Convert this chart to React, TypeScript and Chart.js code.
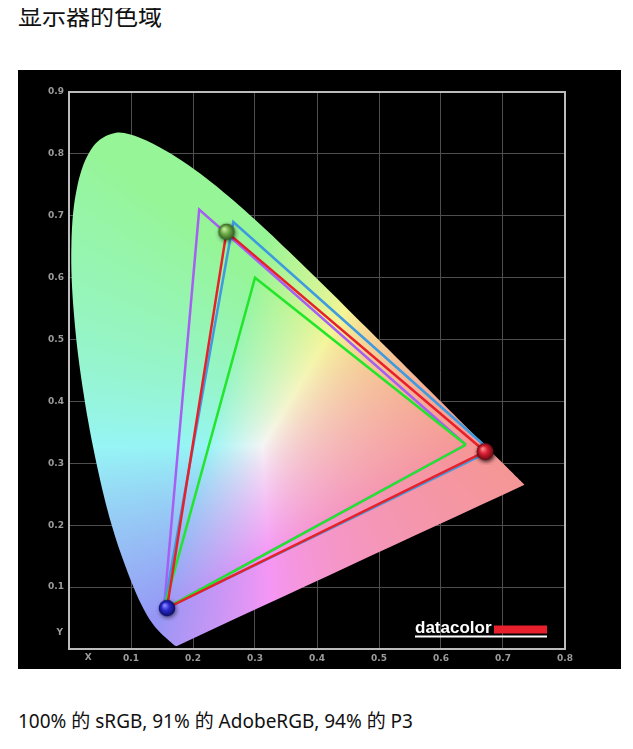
import { useEffect, useRef } from 'react';
import { Chart, registerables } from 'chart.js';
Chart.register(...registerables);

const titleText = '显示器的色域';
const captionText = '100% 的 sRGB, 91% 的 AdobeRGB, 94% 的 P3';

// axis ticks
const xTickValues = [0.1, 0.2, 0.3, 0.4, 0.5, 0.6, 0.7, 0.8];
const yTickValues = [0.1, 0.2, 0.3, 0.4, 0.5, 0.6, 0.7, 0.8, 0.9];
const xAxisLetter = 'X';
const yAxisLetter = 'Y';
const xLetterAt = 0.031;
const yLetterAt = 0.026;
const logoText = 'datacolor';

// CIE 1931 spectral locus (380–700 nm), closed by the line of purples
const locusX = [0.1741, 0.1740, 0.1738, 0.1736, 0.1733, 0.1730, 0.1726, 0.1721, 0.1714, 0.1703, 0.1689, 0.1669, 0.1644, 0.1611, 0.1566, 0.1510, 0.1440, 0.1355, 0.1241, 0.1096, 0.0913, 0.0687, 0.0454, 0.0235, 0.0082, 0.0039, 0.0139, 0.0389, 0.0743, 0.1142, 0.1547, 0.1929, 0.2296, 0.2658, 0.3016, 0.3373, 0.3731, 0.4087, 0.4441, 0.4788, 0.5125, 0.5448, 0.5752, 0.6029, 0.6270, 0.6482, 0.6658, 0.6801, 0.6915, 0.7006, 0.7079, 0.7140, 0.7190, 0.7230, 0.7260, 0.7283, 0.7300, 0.7311, 0.7320, 0.7327, 0.7334, 0.7340, 0.7344, 0.7346, 0.7347, 0.4544, 0.1741];
const locusY = [0.0050, 0.0050, 0.0049, 0.0049, 0.0048, 0.0048, 0.0048, 0.0048, 0.0051, 0.0058, 0.0069, 0.0086, 0.0109, 0.0138, 0.0177, 0.0227, 0.0297, 0.0399, 0.0578, 0.0868, 0.1327, 0.2007, 0.2950, 0.4127, 0.5384, 0.6548, 0.7502, 0.8120, 0.8338, 0.8262, 0.8059, 0.7816, 0.7543, 0.7243, 0.6923, 0.6589, 0.6245, 0.5896, 0.5547, 0.5202, 0.4866, 0.4544, 0.4242, 0.3965, 0.3725, 0.3514, 0.3340, 0.3197, 0.3083, 0.2993, 0.2920, 0.2859, 0.2809, 0.2770, 0.2740, 0.2717, 0.2700, 0.2689, 0.2680, 0.2673, 0.2666, 0.2660, 0.2656, 0.2654, 0.2653, 0.1352, 0.0050];

// gamut triangles (R, G, B)
const adobeX = [0.64, 0.21, 0.153];
const adobeY = [0.33, 0.71, 0.064];
const p3X = [0.68, 0.265, 0.153];
const p3Y = [0.32, 0.69, 0.064];
const srgbX = [0.64, 0.30, 0.153];
const srgbY = [0.33, 0.60, 0.064];
const measuredX = [0.671, 0.254, 0.158];
const measuredY = [0.319, 0.674, 0.066];

const closed = (xs: number[], ys: number[]) =>
  xs.concat([xs[0]]).map((x, i) => ({ x, y: ys.concat([ys[0]])[i] }));

function chroma(x: number, y: number): [number, number, number] {
  if (y <= 0.0001) y = 0.0001;
  const X = x / y, Y = 1, Z = (1 - x - y) / y;
  let r = 3.2406 * X - 1.5372 * Y - 0.4986 * Z;
  let g = -0.9689 * X + 1.8758 * Y + 0.0415 * Z;
  let b = 0.0557 * X - 0.204 * Y + 1.057 * Z;
  r = Math.max(r, 0); g = Math.max(g, 0); b = Math.max(b, 0);
  const m = Math.max(r, g, b, 1e-6);
  const enc = (c: number) => {
    const v = Math.pow(c / m, 0.8);
    return Math.round(150 + 95 * v);
  };
  return [enc(r), enc(g), enc(b)];
}

const patternCache = new WeakMap<any, { key: string; pat: any }>();
function gamutFill(ctx: any) {
  const chart = ctx.chart;
  const area = chart.chartArea;
  const xs = chart.scales && chart.scales.x;
  const ys = chart.scales && chart.scales.y;
  if (!area || !xs || !ys) return 'rgba(0,0,0,0)';
  const key = `${area.left},${area.top},${area.right},${area.bottom},${chart.width},${chart.height}`;
  const c = patternCache.get(chart);
  if (c && c.key === key) return c.pat;
  const w = chart.width, h = chart.height;
  const off = document.createElement('canvas');
  off.width = w; off.height = h;
  const octx = off.getContext('2d')!;
  const img = octx.createImageData(w, h);
  for (let py = Math.floor(area.top); py < Math.ceil(area.bottom); py++) {
    const yv = ys.getValueForPixel(py + 0.5);
    for (let px = Math.floor(area.left); px < Math.ceil(area.right); px++) {
      const xv = xs.getValueForPixel(px + 0.5);
      const [r, g, b] = chroma(xv, yv);
      const i = (py * w + px) * 4;
      img.data[i] = r; img.data[i + 1] = g; img.data[i + 2] = b; img.data[i + 3] = 255;
    }
  }
  octx.putImageData(img, 0, 0);
  const pat = chart.ctx.createPattern(off, 'no-repeat');
  patternCache.set(chart, { key, pat });
  return pat;
}

function makeSphere(light: string, base: string, dark: string) {
  const s = 26;
  const cv = document.createElement('canvas');
  cv.width = s; cv.height = s;
  const c = cv.getContext('2d')!;
  const cx = s / 2, cy = s / 2, r = 8.3;
  c.save();
  c.shadowColor = 'rgba(0,0,0,0.55)';
  c.shadowBlur = 4;
  c.shadowOffsetX = 1;
  c.shadowOffsetY = 1.5;
  const g = c.createRadialGradient(cx - 2.5, cy - 3, 0.5, cx, cy, r);
  g.addColorStop(0, light);
  g.addColorStop(0.45, base);
  g.addColorStop(1, dark);
  c.fillStyle = g;
  c.beginPath();
  c.arc(cx, cy, r, 0, Math.PI * 2);
  c.fill();
  c.restore();
  return cv;
}

const decorPlugin = {
  id: 'decor',
  afterDraw(chart: any) {
    const { ctx, chartArea: a, scales } = chart;
    ctx.save();
    // frame
    ctx.strokeStyle = '#bcbcbc';
    ctx.lineWidth = 2;
    ctx.strokeRect(a.left, a.top, a.right - a.left, a.bottom - a.top);
    // axis letters
    ctx.fillStyle = '#9c9c9c';
    ctx.font = 'bold 9px "DejaVu Sans"';
    ctx.textAlign = 'center';
    ctx.textBaseline = 'middle';
    ctx.fillText(xAxisLetter, scales.x.getPixelForValue(xLetterAt), a.bottom + 9);
    ctx.textAlign = 'right';
    ctx.fillText(yAxisLetter, a.left - 6, scales.y.getPixelForValue(yLetterAt));
    // logo
    const right = a.right - 18;
    const left = a.right - 150;
    const base = a.bottom - 16;
    ctx.fillStyle = '#e8202c';
    ctx.fillRect(right - 53, base - 7.5, 53, 8);
    ctx.fillStyle = '#ffffff';
    ctx.font = 'bold 17px "Liberation Sans"';
    ctx.textAlign = 'left';
    ctx.textBaseline = 'alphabetic';
    ctx.fillText(logoText, left, base);
    ctx.fillRect(left, base + 2.5, right - left, 2);
    ctx.restore();
  },
};

export default function App() {
  const ref = useRef<HTMLCanvasElement>(null);
  useEffect(() => {
    if (!ref.current) return;
    const spheres = [
      makeSphere('#ff8a8a', '#d81f34', '#6e0a14'),
      makeSphere('#c8f0a0', '#6fae4a', '#2f5a1e'),
      makeSphere('#8a8aff', '#2a2ad0', '#0c0c60'),
    ];
    const line = (data: any[], color: string, order: number) => ({
      data,
      borderColor: color,
      borderWidth: 2.5,
      pointRadius: 0,
      fill: false,
      tension: 0,
      order,
    });
    const chart = new Chart(ref.current, {
      type: 'line',
      data: {
        datasets: [
          {
            data: locusX.map((x, i) => ({ x, y: locusY[i] })),
            borderWidth: 0,
            borderColor: 'rgba(0,0,0,0)',
            backgroundColor: gamutFill,
            fill: 'shape',
            pointRadius: 0,
            tension: 0.35,
            order: 10,
          } as any,
          line(closed(adobeX, adobeY), '#a65ff2', 5),
          line(closed(p3X, p3Y), '#3f9be0', 4),
          line(closed(srgbX, srgbY), '#23e52c', 3),
          {
            ...line(closed(measuredX, measuredY), '#e8202a', 1),
            pointRadius: 8,
            pointStyle: (c: any) => spheres[c.dataIndex % 3],
          } as any,
        ],
      },
      options: {
        animation: false,
        responsive: false,
        events: [],
        layout: { padding: { top: 22, right: 56, left: 0, bottom: 0 } },
        plugins: { legend: { display: false }, tooltip: { enabled: false } },
        scales: {
          x: {
            type: 'linear',
            min: 0,
            max: 0.8,
            afterFit: (s: any) => { s.height = 20; },
            afterBuildTicks: (s: any) => { s.ticks = [0].concat(xTickValues).map((v) => ({ value: v })); },
            grid: { color: '#4e4e4e', lineWidth: 1, drawTicks: false },
            border: { display: false },
            ticks: {
              padding: 4,
              color: '#9c9c9c',
              font: { family: '"DejaVu Sans"', size: 9, weight: 'bold' },
              callback: (v: any) => (Math.abs(v) < 1e-9 ? '' : Number(v).toFixed(1)),
              maxRotation: 0,
              autoSkip: false,
            },
          },
          y: {
            type: 'linear',
            min: 0,
            max: 0.9,
            afterFit: (s: any) => { s.width = 51; },
            afterBuildTicks: (s: any) => { s.ticks = [0].concat(yTickValues).map((v) => ({ value: v })); },
            grid: { color: '#4e4e4e', lineWidth: 1, drawTicks: false },
            border: { display: false },
            ticks: {
              padding: 5,
              color: '#9c9c9c',
              font: { family: '"DejaVu Sans"', size: 9, weight: 'bold' },
              callback: (v: any) => (Math.abs(v) < 1e-9 ? '' : Number(v).toFixed(1)),
              autoSkip: false,
            },
          },
        },
      } as any,
      plugins: [decorPlugin],
    });
    return () => chart.destroy();
  }, []);

  return (
    <div style={{ position: 'relative', width: 617, height: 733 }}>
      <div
        style={{
          position: 'absolute', left: 10, top: -5, fontSize: 24, lineHeight: '24px',
          fontFamily: '"Noto Sans CJK SC", "Noto Sans", sans-serif', color: '#111', whiteSpace: 'nowrap',
        }}
      >
        {titleText}
      </div>
      <div style={{ position: 'absolute', left: 10, top: 62, width: 603, height: 599, background: '#000' }}>
        <canvas ref={ref} width={603} height={599} style={{ display: 'block', width: 603, height: 599 }} />
      </div>
      <div
        style={{
          position: 'absolute', left: 10, top: 703, fontSize: 19, lineHeight: '20px',
          fontFamily: '"Noto Sans", "Noto Sans CJK SC", sans-serif', color: '#111', whiteSpace: 'nowrap',
        }}
      >
        {captionText}
      </div>
    </div>
  );
}
